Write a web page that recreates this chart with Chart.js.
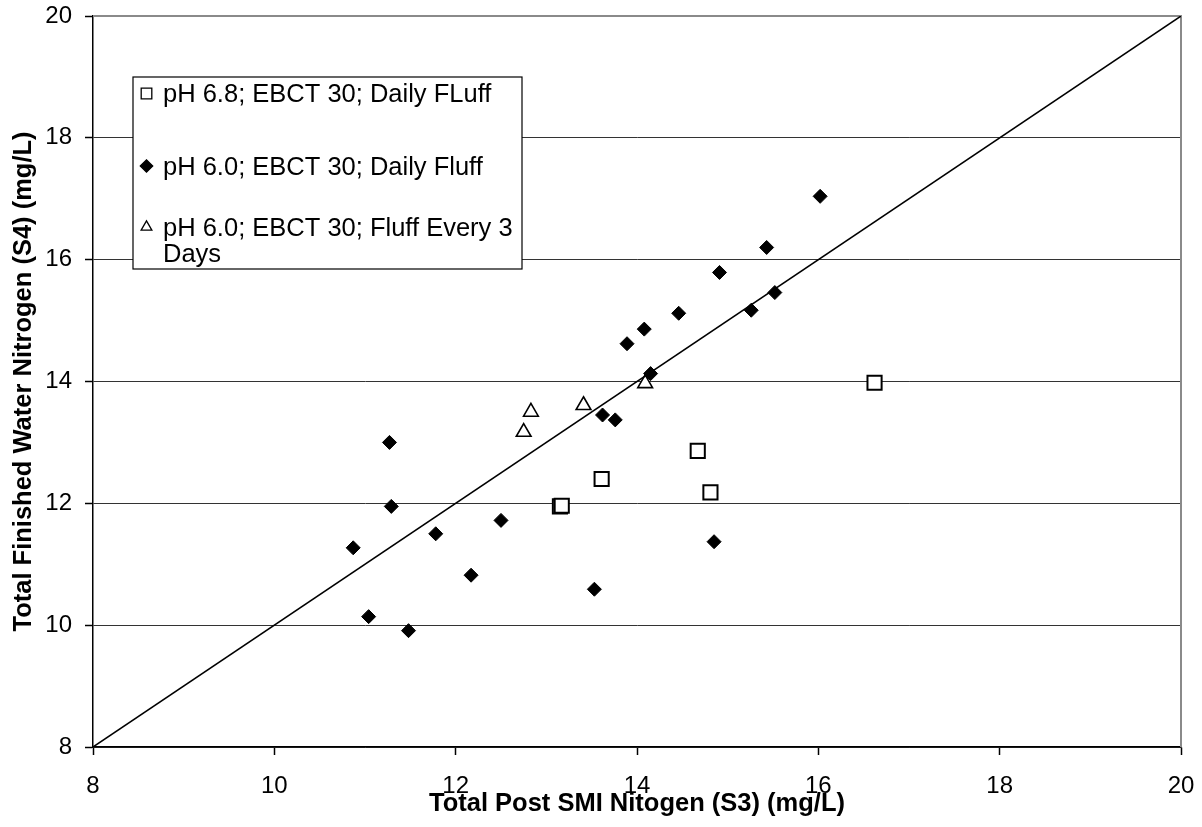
<!DOCTYPE html>
<html>
<head>
<meta charset="utf-8">
<script src="https://cdn.jsdelivr.net/npm/chart.js@4/dist/chart.umd.min.js"></script>
<style>
  body { margin: 0; background: #fff; }
  canvas { display: block; }
</style>
</head>
<body>
<canvas id="nitrogen" width="1202" height="827"></canvas>
<script>
// axis ranges and ticks
const axisMin = 8;
const axisMax = 20;
const tickStep = 2;

// 1:1 reference line
const oneToOne = [8, 20];

// pH 6.8; EBCT 30; Daily FLuff
const ph68DailyX = [13.15, 13.17, 13.61, 14.67, 14.81, 16.62];
const ph68DailyY = [11.95, 11.96, 12.40, 12.86, 12.18, 13.98];

// pH 6.0; EBCT 30; Daily Fluff
const ph60DailyX = [10.87, 11.27, 11.29, 11.04, 11.48, 11.78, 12.17, 12.50, 13.53, 13.62, 13.76,
  14.15, 14.85, 13.89, 14.08, 14.46, 14.91, 15.26, 15.43, 15.52, 16.02];
const ph60DailyY = [11.27, 13.00, 11.95, 10.14, 9.91, 11.50, 10.82, 11.72, 10.59, 13.45, 13.37,
  14.13, 11.37, 14.62, 14.86, 15.12, 15.79, 15.17, 16.20, 15.46, 17.04];

// pH 6.0; EBCT 30; Fluff Every 3 Days
const ph60Every3X = [12.75, 12.83, 13.41, 14.09];
const ph60Every3Y = [13.17, 13.50, 13.61, 13.97];

const seriesNames = [
  ['pH 6.8; EBCT 30; Daily FLuff'],
  ['pH 6.0; EBCT 30; Daily Fluff'],
  ['pH 6.0; EBCT 30; Fluff Every 3', 'Days'],
];

const xTitle = 'Total Post SMI Nitogen (S3) (mg/L)';
const yTitle = 'Total Finished Water Nitrogen (S4) (mg/L)';

const FONT = '"Liberation Sans", Arial, sans-serif';

const toPoints = (xs, ys) => xs.map((x, i) => ({x, y: ys[i]}));

const markerStyles = [
  {pointStyle: 'rect', radius: 10, borderWidth: 2, fill: '#fff'},
  {pointStyle: 'rectRot', radius: 7, borderWidth: 1, fill: '#000'},
  {pointStyle: 'triangle', radius: 8.5, borderWidth: 1.6, fill: '#fff'},
];

const series = [
  toPoints(ph68DailyX, ph68DailyY),
  toPoints(ph60DailyX, ph60DailyY),
  toPoints(ph60Every3X, ph60Every3Y),
];

const datasets = [{
  type: 'line',
  label: '1:1',
  data: toPoints(oneToOne, oneToOne),
  borderColor: '#000',
  borderWidth: 1.5,
  pointRadius: 0,
  showLine: true,
}];
series.forEach((data, i) => {
  const m = markerStyles[i];
  datasets.push({
    label: seriesNames[i].join(' '),
    data,
    pointStyle: m.pointStyle,
    pointRadius: m.radius,
    pointHoverRadius: m.radius,
    pointBorderWidth: m.borderWidth,
    pointBackgroundColor: m.fill,
    pointBorderColor: '#000',
  });
});

// gray frame on the top and right of the plot area
const plotFrame = {
  id: 'plotFrame',
  beforeDatasetsDraw(chart) {
    const {ctx, chartArea: a} = chart;
    ctx.save();
    ctx.strokeStyle = '#8a8a8a';
    ctx.lineWidth = 2;
    ctx.beginPath();
    ctx.moveTo(a.left, a.top);
    ctx.lineTo(a.right, a.top);
    ctx.lineTo(a.right, a.bottom);
    ctx.stroke();
    ctx.restore();
  },
};

// boxed legend inside the plot, third entry wraps onto two lines
const boxLegend = {
  id: 'boxLegend',
  afterDatasetsDraw(chart) {
    const {ctx} = chart;
    const box = {left: 133, top: 77, right: 522, bottom: 269};
    const baselines = [[102], [175], [236, 262]];
    const markerY = [93.5, 166, 227];
    ctx.save();
    ctx.fillStyle = '#fff';
    ctx.fillRect(box.left, box.top, box.right - box.left, box.bottom - box.top);
    ctx.strokeStyle = '#000';
    ctx.lineWidth = 1.2;
    ctx.strokeRect(box.left, box.top, box.right - box.left, box.bottom - box.top);

    ctx.font = '25.5px ' + FONT;
    ctx.textBaseline = 'alphabetic';
    ctx.textAlign = 'left';
    seriesNames.forEach((lines, i) => {
      const m = markerStyles[i];
      ctx.fillStyle = m.fill;
      ctx.strokeStyle = '#000';
      ctx.lineWidth = 1.3;
      Chart.helpers.drawPoint(ctx, {
        pointStyle: m.pointStyle,
        radius: m.pointStyle === 'rect' ? 7.5 : 6.2,
        borderWidth: 1.3,
        rotation: 0,
      }, 146.5, markerY[i]);
      ctx.fillStyle = '#000';
      lines.forEach((line, j) => ctx.fillText(line, 163, baselines[i][j]));
    });
    ctx.restore();
  },
};

const tickFont = {family: FONT, size: 24};
const titleFont = {family: FONT, size: 25.5, weight: 'bold'};

new Chart(document.getElementById('nitrogen'), {
  type: 'scatter',
  data: {datasets},
  plugins: [plotFrame, boxLegend],
  options: {
    responsive: false,
    animation: false,
    layout: {padding: {top: 16, right: 21, left: 0, bottom: 0}},
    plugins: {
      legend: {display: false},
      tooltip: {enabled: false},
    },
    scales: {
      x: {
        type: 'linear',
        min: axisMin,
        max: axisMax,
        ticks: {stepSize: tickStep, color: '#000', font: tickFont, padding: 17, maxRotation: 0},
        grid: {drawOnChartArea: false, drawTicks: true, tickLength: 8, tickColor: '#000', tickWidth: 1.5},
        border: {color: '#000', width: 1.5},
        title: {display: true, text: xTitle, color: '#000', font: titleFont, padding: {top: 0, bottom: 8}},
        afterFit(scale) {
          scale.height = 80;
          scale.paddingLeft = 0;
          scale.paddingRight = 0;
        },
      },
      y: {
        type: 'linear',
        min: axisMin,
        max: axisMax,
        ticks: {stepSize: tickStep, color: '#000', font: tickFont, padding: 13},
        grid: {color: '#333', lineWidth: 1, tickLength: 8, tickColor: '#000', tickWidth: 1.5},
        border: {color: '#000', width: 1.5},
        title: {display: true, text: yTitle, color: '#000', font: titleFont, padding: {top: 9, bottom: 0}},
        afterFit(scale) {
          scale.width = 93;
          scale.paddingTop = 0;
          scale.paddingBottom = 0;
        },
      },
    },
  },
});
</script>
</body>
</html>
